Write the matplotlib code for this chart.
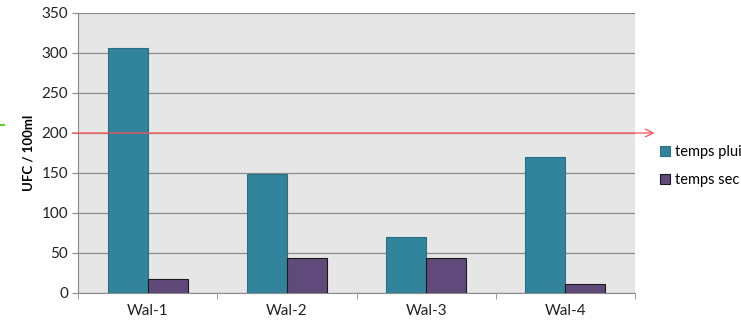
import matplotlib
matplotlib.use("Agg")
import matplotlib.pyplot as plt
import numpy as np
from matplotlib.lines import Line2D

categories = ["Wal-1", "Wal-2", "Wal-3", "Wal-4"]
temps_pluie = [306, 149, 70, 170]
temps_sec = [18, 44, 44, 11]
seuil = 200
yticks = [0, 50, 100, 150, 200, 250, 300, 350]

plt.rcParams['font.family'] = ['Lato', 'DejaVu Sans']

fig = plt.figure(figsize=(7.41, 3.24), dpi=100)
ax = fig.add_axes([78/741, 1-293/324, (635-78)/741, (293-13)/324])
ax.set_facecolor("#E6E6E6")

x = np.arange(len(categories))
w = 0.287
ax.bar(x - w/2, temps_pluie, w, color="#31849B", edgecolor="#2A6F82", linewidth=0.8, label="temps pluie", zorder=3)
ax.bar(x + w/2, temps_sec, w, color="#604A7B", edgecolor="#1A1A1A", linewidth=0.8, label="temps sec", zorder=3)

ax.set_xlim(-0.5, len(categories) - 0.5)
ax.set_ylim(0, 350)
ax.set_yticks(yticks)
ax.yaxis.grid(True, color="#8C8C8C", linewidth=0.9, zorder=1)
ax.set_xticks(x)
ax.set_xticklabels(categories, fontsize=11, color="#222222")
ax.set_xticks(np.arange(-0.5, len(categories)), minor=True)
ax.tick_params(axis="x", which="major", length=0, pad=8)
ax.tick_params(axis="x", which="minor", length=4, color="#8C8C8C")
ax.tick_params(axis="y", length=4, color="#8C8C8C", labelsize=11, labelcolor="#222222", pad=3)
for s in ["top", "right"]:
    ax.spines[s].set_visible(False)
for s in ["left", "bottom"]:
    ax.spines[s].set_color("#8C8C8C")

ax.set_ylabel("UFC / 100ml", fontsize=9.5, fontweight="bold", labelpad=5)

# threshold line with arrow
ax.annotate("", xy=(1.035, seuil), xycoords=("axes fraction", "data"),
            xytext=(-0.01, seuil), textcoords=("axes fraction", "data"),
            arrowprops=dict(arrowstyle="->", color="#FF5050", lw=0.9,
                            mutation_scale=14, shrinkA=0, shrinkB=0),
            annotation_clip=False, zorder=5)

# small green mark on the left edge
fig.add_artist(Line2D([0/741, 4/741], [1-125/324, 1-125/324], color="#66CC33", lw=1.5))

leg = fig.legend(loc="upper left", bbox_to_anchor=(657/741, 1-142/324), frameon=False,
                 fontsize=10.5, handlelength=0.7, handleheight=0.7, handletextpad=0.35,
                 labelspacing=0.95, borderaxespad=0, borderpad=0.2)

fig.savefig("out.png", dpi=100)
